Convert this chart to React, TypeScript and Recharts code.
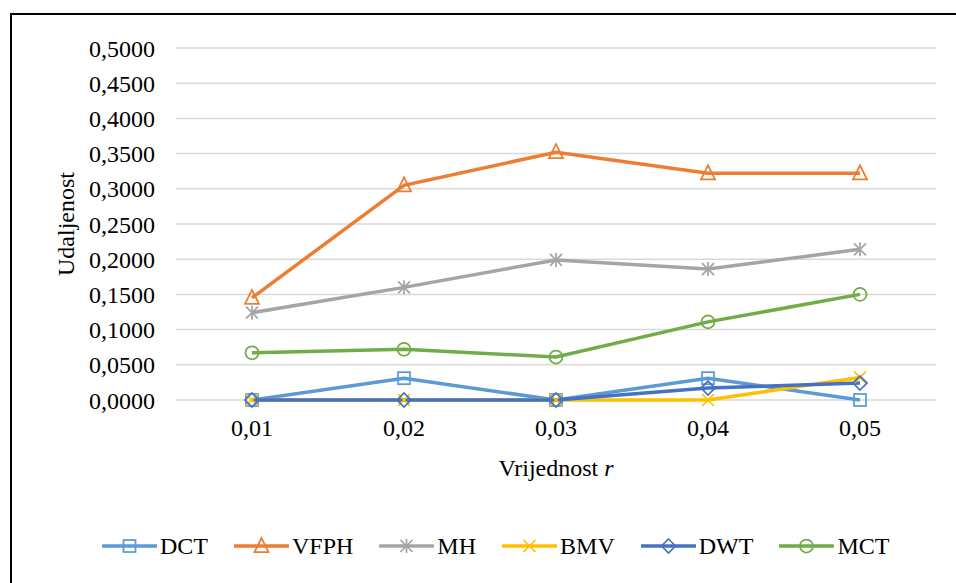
import React from 'react';
import { LineChart, Line, XAxis, YAxis, CartesianGrid, Legend } from 'recharts';

const categories = ['0,01', '0,02', '0,03', '0,04', '0,05'];
const dctValues = [0, 0.031, 0, 0.031, 0];
const vfphValues = [0.145, 0.305, 0.352, 0.322, 0.322];
const mhValues = [0.124, 0.16, 0.199, 0.186, 0.214];
const bmvValues = [0, 0, 0, 0, 0.032];
const dwtValues = [0, 0, 0, 0.017, 0.024];
const mctValues = [0.067, 0.072, 0.061, 0.111, 0.15];
const yTicks = [0, 0.05, 0.1, 0.15, 0.2, 0.25, 0.3, 0.35, 0.4, 0.45, 0.5];

const seriesNames = ['DCT', 'VFPH', 'MH', 'BMV', 'DWT', 'MCT'];
const seriesValues = [dctValues, vfphValues, mhValues, bmvValues, dwtValues, mctValues];
const seriesColors = ['#5B9BD5', '#ED7D31', '#A5A5A5', '#FFC000', '#4472C4', '#70AD47'];
const seriesShapes = ['square', 'triangle', 'star', 'x', 'diamond', 'circle'];

const data = categories.map((c, i) => {
  const row: any = { cat: c };
  seriesNames.forEach((n, s) => {
    row[n] = seriesValues[s][i];
  });
  return row;
});

const FONT = 'Liberation Serif';

function Marker({ shape, color, cx, cy }: { shape: string; color: string; cx: number; cy: number }) {
  const sw = 1.75;
  switch (shape) {
    case 'square':
      return <rect x={cx - 6} y={cy - 6} width={12} height={12} fill="none" stroke={color} strokeWidth={sw} />;
    case 'triangle':
      return (
        <polygon
          points={`${cx},${cy - 8} ${cx - 7},${cy + 6} ${cx + 7},${cy + 6}`}
          fill="none"
          stroke={color}
          strokeWidth={sw}
        />
      );
    case 'star':
      return (
        <g stroke={color} strokeWidth={sw}>
          <line x1={cx} y1={cy - 7} x2={cx} y2={cy + 7} />
          <line x1={cx - 6} y1={cy - 6} x2={cx + 6} y2={cy + 6} />
          <line x1={cx - 6} y1={cy + 6} x2={cx + 6} y2={cy - 6} />
        </g>
      );
    case 'x':
      return (
        <g stroke={color} strokeWidth={sw}>
          <line x1={cx - 6} y1={cy - 6} x2={cx + 6} y2={cy + 6} />
          <line x1={cx - 6} y1={cy + 6} x2={cx + 6} y2={cy - 6} />
        </g>
      );
    case 'diamond':
      return (
        <polygon
          points={`${cx},${cy - 7} ${cx + 7},${cy} ${cx},${cy + 7} ${cx - 7},${cy}`}
          fill="none"
          stroke={color}
          strokeWidth={sw}
        />
      );
    default:
      return <circle cx={cx} cy={cy} r={6.5} fill="none" stroke={color} strokeWidth={sw} />;
  }
}

const makeDot = (shape: string, color: string) => (props: any) => {
  const { cx, cy, index } = props;
  if (cx == null || cy == null) return <g key={`d-${index}`} />;
  return (
    <g key={`d-${shape}-${index}`}>
      <Marker shape={shape} color={color} cx={cx} cy={cy} />
    </g>
  );
};

const yFormat = (v: number) => v.toFixed(4).replace('.', ',');

function XLabel(props: any) {
  const vb = props.viewBox || {};
  const x = vb.x + vb.width / 2;
  return (
    <text x={x} y={476} textAnchor="middle" fontFamily={FONT} fontSize={24} fill="#000">
      Vrijednost <tspan fontStyle="italic">r</tspan>
    </text>
  );
}

function YLabel(props: any) {
  const vb = props.viewBox || {};
  const cy = vb.y + vb.height / 2;
  return (
    <text
      x={74}
      y={cy}
      transform={`rotate(-90, 74, ${cy})`}
      textAnchor="middle"
      fontFamily={FONT}
      fontSize={24}
      fill="#000"
    >
      Udaljenost
    </text>
  );
}

function LegendContent() {
  return (
    <div
      style={{
        height: 36,
        display: 'flex',
        alignItems: 'center',
        paddingLeft: 102,
        fontFamily: FONT,
        fontSize: 24,
        color: '#000',
      }}
    >
      {seriesNames.map((n, i) => (
        <div key={n} style={{ display: 'flex', alignItems: 'center', marginRight: 26 }}>
          <svg width={55} height={20} style={{ display: 'block' }}>
            <line x1={1} y1={10} x2={54} y2={10} stroke={seriesColors[i]} strokeWidth={3.5} strokeLinecap="round" />
            <Marker shape={seriesShapes[i]} color={seriesColors[i]} cx={27.5} cy={10} />
          </svg>
          <span style={{ marginLeft: 3, lineHeight: '24px', fontFamily: FONT }}>{n}</span>
        </div>
      ))}
    </div>
  );
}

const tickStyle = { fontFamily: FONT, fontSize: 24, fill: '#000' };

export default function App() {
  return (
    <div
      style={{
        position: 'fixed',
        left: 0,
        top: 0,
        width: 956,
        height: 583,
        overflow: 'hidden',
        background: '#fff',
        fontFamily: FONT,
      }}
    >
      <div
        style={{
          position: 'absolute',
          left: 10,
          top: 13,
          width: 1000,
          height: 1000,
          border: '2px solid #000',
          boxSizing: 'border-box',
        }}
      />
      <div style={{ position: 'absolute', left: 0, top: 0 }}>
        <LineChart width={956} height={583} data={data} margin={{ top: 48, right: 20, bottom: 0, left: 0 }}>
          <CartesianGrid vertical={false} stroke="#d9d9d9" strokeWidth={1.5} />
          <XAxis
            dataKey="cat"
            axisLine={false}
            tickLine={false}
            tickSize={0}
            tickMargin={19}
            padding={{ left: 76, right: 76 }}
            height={147}
            interval={0}
            tick={tickStyle}
            label={<XLabel />}
          />
          <YAxis
            width={176}
            domain={[0, 0.5]}
            ticks={yTicks}
            tickFormatter={yFormat}
            axisLine={false}
            tickLine={false}
            tickSize={0}
            tickMargin={21}
            interval={0}
            tick={tickStyle}
            label={<YLabel />}
          />
          <Legend
            verticalAlign="bottom"
            content={<LegendContent />}
            wrapperStyle={{ position: 'absolute', left: 0, top: 528, width: 956 }}
          />
          {seriesNames.map((n, i) => (
            <Line
              key={n}
              type="linear"
              dataKey={n}
              stroke={seriesColors[i]}
              strokeWidth={3.5}
              dot={makeDot(seriesShapes[i], seriesColors[i])}
              activeDot={false}
              isAnimationActive={false}
            />
          ))}
        </LineChart>
      </div>
    </div>
  );
}
